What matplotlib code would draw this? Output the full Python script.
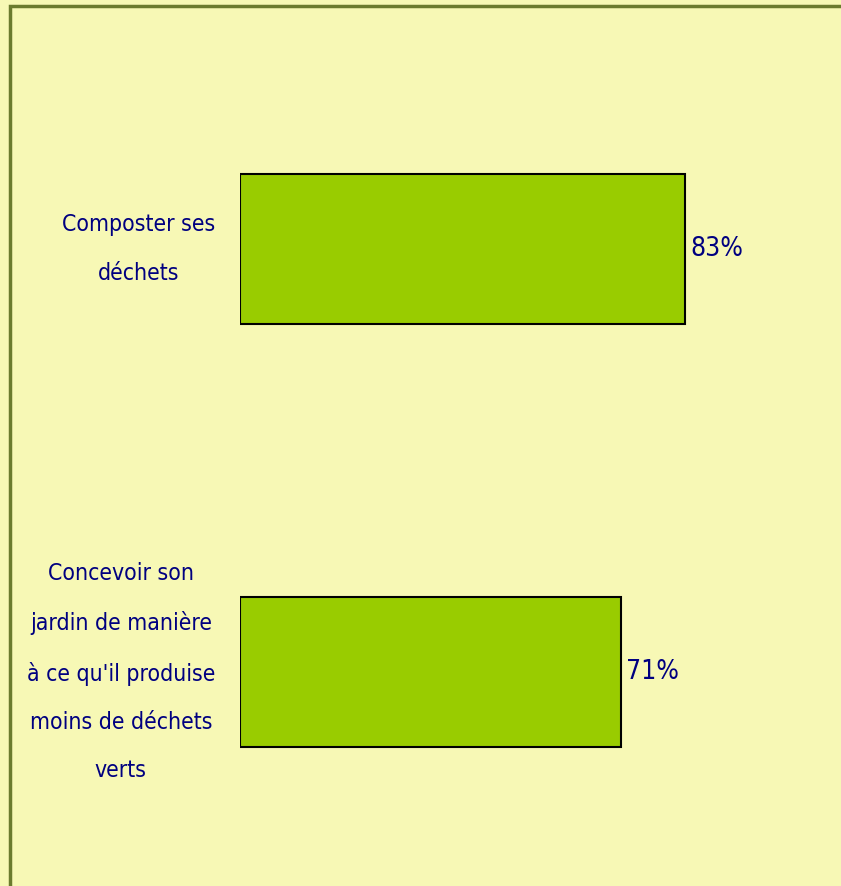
import matplotlib.pyplot as plt
from matplotlib.patches import Rectangle
from matplotlib import font_manager

# data
categories = ["Concevoir son\njardin de manière\nà ce qu'il produise\nmoins de déchets\nverts",
              "Composter ses\ndéchets"]
values = [71, 83]

bg = '#F7F8B5'
bar_color = '#99CC00'
text_color = '#000080'

names = sorted({f.name for f in font_manager.fontManager.ttflist})
fam = ['Liberation Sans Narrow', 'DejaVu Sans'] if 'Liberation Sans Narrow' in names else ['DejaVu Sans']
plt.rcParams['font.family'] = fam

fig = plt.figure(figsize=(8.41, 8.86), dpi=100, facecolor=bg)
W, H = 841, 886

# outer frame (runs off the right and bottom edges)
fig.patches.append(Rectangle((10 / W, -0.05), 1.2, 1 - 6 / H + 0.05,
                             transform=fig.transFigure, fill=False,
                             edgecolor='#6B7B2E', linewidth=2.5))

ax = fig.add_axes([240 / W, 0, 536 / W, 1])
ax.set_facecolor('none')
ypos = [0, 1]
bars = ax.barh(ypos, values, height=150 / 423, color=bar_color,
               edgecolor='black', linewidth=1.5)
ax.set_xlim(0, 100)
ax.set_ylim(-(886 - 672) / 423, 1 + 249 / 423)

ax.set_yticks(ypos)
ax.set_yticklabels(categories, fontsize=16.5, color=text_color,
                   linespacing=2.4, multialignment='center',
                   fontstretch='condensed')
for lbl in ax.get_yticklabels():
    lbl.set_verticalalignment('center')
ax.tick_params(axis='y', length=0, pad=18)
ax.set_xticks([])
for s in ax.spines.values():
    s.set_visible(False)

for y, v in zip(ypos, values):
    ax.text(v + 1.1, y, f"{v}%", va='center', ha='left', fontsize=19,
            color=text_color, fontstretch='condensed')

fig.savefig('out.png', dpi=100, facecolor=bg)
